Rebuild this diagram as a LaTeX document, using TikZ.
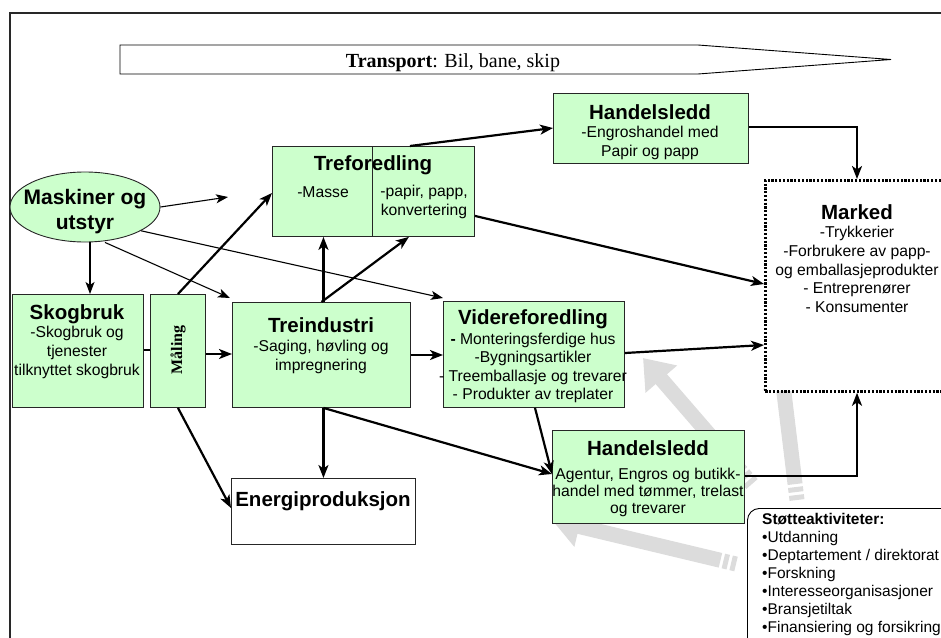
\documentclass[tikz,border=0pt]{standalone}
\usepackage{fontspec}
\setmainfont{Liberation Sans}
\newfontfamily\timesfont{Liberation Serif}
\usetikzlibrary{arrows.meta,shapes.geometric}

\definecolor{boxgreen}{RGB}{204,255,204}
\definecolor{supportgray}{RGB}{220,220,220}
\definecolor{framegray}{RGB}{40,40,40}

\tikzset{
  stagebox/.style={draw=black!85, fill=boxgreen, line width=0.9pt, anchor=north west, inner sep=0pt},
  plainbox/.style={draw=black!85, fill=white, line width=0.9pt, anchor=north west, inner sep=0pt},
  ttl/.style={font=\bfseries\fontsize{20.5}{23}\selectfont, inner sep=0pt, anchor=base},
  body/.style={font=\fontsize{15.7}{19}\selectfont, align=center, inner sep=0pt, anchor=north},
  flow/.style={line width=2.2pt, -{Stealth[length=13pt,width=10pt,inset=3.5pt]}},
  feed/.style={line width=1.1pt, -{Stealth[length=12pt,width=9pt,inset=3pt]}},
  support/.style={draw=supportgray, line width=15pt,
    dash pattern=on 5pt off 3pt on 5pt off 3pt on 400pt,
    -{Triangle[length=28pt,width=40pt]}},
}

\begin{document}
\begin{tikzpicture}[x=1pt,y=-1pt]
\clip (0,0) rectangle (941,637);

% outer frame
\draw[framegray, line width=2pt] (10,13) rectangle (960,660);

% transport banner
\draw[line width=0.9pt] (120,45) -- (698,45) -- (891,59.5) -- (698,74) -- (120,74) -- cycle;
\node[font=\timesfont\fontsize{20}{23}\selectfont, inner sep=0pt, anchor=base] (transport) at (453,67)
  {\textbf{Transport}: Bil, bane, skip};

% supporting activities: broad grey arrows (drawn first, boxes cover them)
\draw[support] (797,500) -- (780,360);
\draw[support] (752,484) -- (643,358);
\draw[support] (736,564) -- (552,520);

% boxes
\node[ellipse, draw=black!85, fill=boxgreen, line width=0.9pt,
      minimum width=150pt, minimum height=70pt, inner sep=0pt] (maskin) at (85,207) {};
\node[align=center, inner sep=0pt, anchor=north, font=\bfseries\fontsize{21}{25}\selectfont] (maskintxt) at (85,189) {Maskiner og\\utstyr};

\node[stagebox, minimum width=131pt, minimum height=113pt] (skog) at (12,294) {};
\node[ttl] (skogttl) at (77,319) {Skogbruk};
\node[body] (skogtxt) at (77,326) {-Skogbruk og\\tjenester\\tilknyttet skogbruk};

\node[stagebox, minimum width=55pt, minimum height=113pt] (maling) at (150,294) {};
\node[font=\timesfont\bfseries\fontsize{16}{18}\selectfont, rotate=90, inner sep=0pt] (malingtxt) at (178,350) {Måling};

\node[stagebox, minimum width=178pt, minimum height=105pt] (treind) at (232,302) {};
\node[ttl] (treindttl) at (321,332) {Treindustri};
\node[body] (treindtxt) at (321,340) {-Saging, høvling og\\impregnering};

\node[stagebox, minimum width=202pt, minimum height=90pt] (trefor) at (272,146) {};
\draw[line width=0.9pt, black!85] (372,146) -- (372,236);
\node[ttl] (treforttl) at (373,170) {Treforedling};
\node[body, anchor=base] (masse) at (323,197.5) {-Masse};
\node[body] (papir) at (424,185) {-papir, papp,\\konvertering};

\node[stagebox, minimum width=195pt, minimum height=70pt] (handel1) at (553,93) {};
\node[ttl] (handel1ttl) at (650,119) {Handelsledd};
\node[body] (handel1txt) at (650,126) {-Engroshandel med\\Papir og papp};

\node[stagebox, minimum width=181pt, minimum height=106pt] (videre) at (443,301) {};
\node[ttl] (viderettl) at (533,324) {Videreforedling};
\node[body, font=\fontsize{15.7}{18.4}\selectfont] (videretxt) at (533,333)
  {\textbf{-} Monteringsferdige hus\\-Bygningsartikler\\- Treemballasje og trevarer\\- Produkter av treplater};

\node[stagebox, minimum width=192pt, minimum height=93pt] (handel2) at (552,430) {};
\node[ttl] (handel2ttl) at (648,455) {Handelsledd};
\node[body, font=\fontsize{15.7}{17}\selectfont] (handel2txt) at (648,468)
  {Agentur, Engros og butikk-\\handel med tømmer, trelast\\og trevarer};

\node[plainbox, minimum width=184pt, minimum height=66pt] (energi) at (231,478) {};
\node[ttl] (energittl) at (323,506) {Energiproduksjon};

\node[draw=black, fill=white, line width=2.8pt, dash pattern=on 2.2pt off 1.6pt,
      anchor=north west, inner sep=0pt, minimum width=195pt, minimum height=211pt] (marked) at (764,179) {};
\node[ttl] (markedttl) at (857,219) {Marked};
\node[body, font=\fontsize{15.7}{18.8}\selectfont] (markedtxt) at (857,226)
  {-Trykkerier\\-Forbrukere av papp-\\og emballasjeprodukter\\- Entreprenører\\- Konsumenter};

\node[draw=black, fill=white, line width=0.9pt, rounded corners=12pt, anchor=north west,
      inner sep=0pt, minimum width=220pt, minimum height=160pt] (stotte) at (747,508) {};
\node[font=\fontsize{15.5}{18}\selectfont, align=left, anchor=north west, inner sep=0pt] (stottetxt) at (762,513)
  {\textbf{Støtteaktiviteter:}\\•Utdanning\\•Deptartement / direktorat\\•Forskning\\•Interesseorganisasjoner\\•Bransjetiltak\\•Finansiering og forsikring};

% connectors from the machinery ellipse
\coordinate (maskinend) at (228,197);
\draw[feed] (maskin.east) -- (maskinend);
\draw[feed] ([xshift=5pt]maskin.south) -- ([xshift=5pt]skog.north -| maskin.south);
\draw[feed] ([xshift=20pt]maskin.south) -- ([xshift=-2pt,yshift=4pt]treind.north west);
\draw[feed] (maskin.-23) -- ([yshift=3pt]videre.north west);

% main flows
\draw[line width=2.2pt] (skog.east |- 0,350) -- (maling.west |- 0,350);
\draw[flow] (maling.east |- 0,354) -- (treind.west |- 0,354);
\draw[flow] (maling.north) -- ([yshift=-47pt]trefor.north west);
\draw[flow] (maling.south) -- ([yshift=-30pt]energi.north west);
\draw[flow] ([xshift=2pt]treind.north) -- ([xshift=2pt]treind.north |- trefor.south);
\draw[flow] (treind.north) -- ([xshift=-66pt]trefor.south east);
\draw[flow] ([xshift=2pt]treind.south) -- ([xshift=2pt]treind.south |- energi.north);
\draw[flow] ([xshift=2pt]treind.south) -- ([yshift=-44pt]handel2.north west);
\draw[flow] (treind.east |- 0,355) -- (videre.west |- 0,355);
\draw[flow] ([xshift=-65pt]trefor.north east) -- ([yshift=-35pt]handel1.north west);
\draw[flow] ([yshift=21pt]trefor.south east) -- ([yshift=-105pt]marked.north west);
\draw[flow] ([xshift=92pt]videre.south west) -- ([yshift=-44pt]handel2.north west);
\draw[flow] ([yshift=-52pt]videre.north east) -- ([yshift=-166pt]marked.north west);
\draw[flow] (handel1.east |- 0,127) -| ([xshift=93pt]marked.north west);
\draw[flow] (handel2.east |- 0,476) -| ([xshift=93pt]marked.south west);
\end{tikzpicture}
\end{document}
